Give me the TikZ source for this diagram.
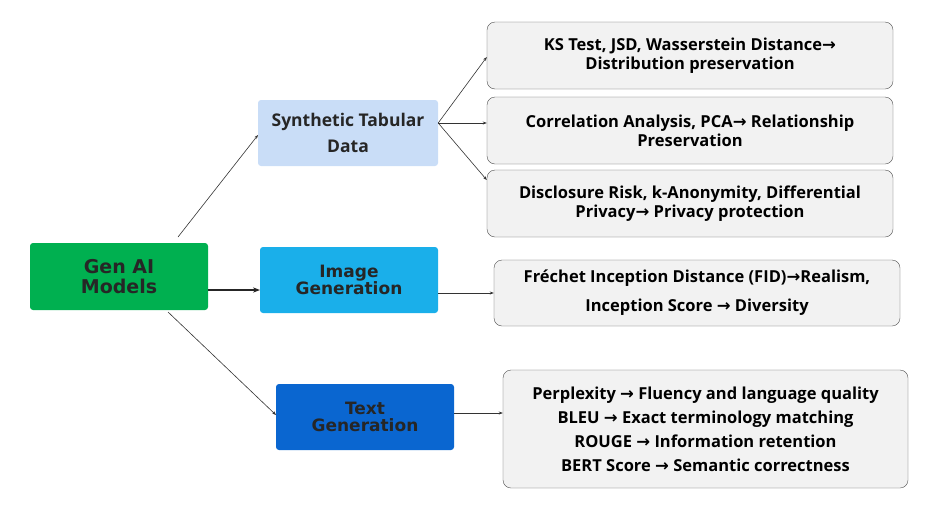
\documentclass[tikz,border=0pt]{standalone}
\usepackage{fontspec}
\setmainfont{Open Sans}
\newfontfamily\arr{DejaVu Sans}
\newfontfamily\catf{DejaVu Sans}
\newcommand{\ar}{{\arr\bfseries\char"2192}}
\usetikzlibrary{arrows.meta}
\definecolor{gboxc}{HTML}{00B050}
\definecolor{sboxc}{HTML}{C9DDF7}
\definecolor{iboxc}{HTML}{1AAFEA}
\definecolor{tboxc}{HTML}{0A66D0}
\definecolor{rboxc}{HTML}{F2F2F2}
\begin{document}
\begin{tikzpicture}[x=1pt,y=-1pt,
 cat/.style={rounded corners=3pt,inner sep=0pt,align=center,font=\catf\bfseries\fontsize{17}{17}\selectfont,text=black!85},
 res/.style={draw=black!70,fill=rboxc,rounded corners=8pt,inner sep=0pt,align=center,font=\bfseries\fontsize{16.5}{19}\selectfont},
 con/.style={draw=black!80,-{Stealth[length=4pt]},line width=0.6pt}]
\useasboundingbox (0,0) rectangle (940,515);
\node[cat,fill=gboxc,minimum width=178,minimum height=67,font=\catf\bfseries\fontsize{19}{20}\selectfont] (g) at (119,276.5) {Gen AI\\Models};
\node[cat,fill=sboxc,minimum width=180,minimum height=66,font=\bfseries\fontsize{17.5}{26}\selectfont] (s) at (348,133) {Synthetic Tabular\\Data};
\node[cat,fill=iboxc,minimum width=178,minimum height=66] (i) at (349,280) {Image\\Generation};
\node[cat,fill=tboxc,minimum width=178,minimum height=66] (t) at (365,417) {Text\\Generation};
\node[res,minimum width=406,minimum height=67] (b1) at (690,55.5) {KS Test, JSD, Wasserstein Distance\ar\\Distribution preservation};
\node[res,minimum width=406,minimum height=67] (b2) at (690,130.5) {Correlation Analysis, PCA\ar{} Relationship\\Preservation};
\node[res,minimum width=406,minimum height=67] (b3) at (690,203.5) {Disclosure Risk, k-Anonymity, Differential\\Privacy\ar{} Privacy protection};
\node[res,minimum width=406,minimum height=66,font=\bfseries\fontsize{16.5}{29}\selectfont] (b4) at (697,293) {Fréchet Inception Distance (FID)\ar Realism,\\Inception Score \ar{} Diversity};
\node[res,minimum width=405,minimum height=118,font=\bfseries\fontsize{16.5}{24}\selectfont] (b5) at (705.5,429) {Perplexity \ar{} Fluency and language quality\\BLEU \ar{} Exact terminology matching\\ROUGE \ar{} Information retention\\BERT Score \ar{} Semantic correctness};
\path (i.west) ++(0,0) coordinate (iw);
\draw[con] (178,237) -- (258,135);
\draw[con] (168,312) -- (276,415);
\draw[-{Stealth[length=7pt]},line width=2.2pt,black!85] (208,290) -- (260,290);
\draw[con] (s.east |- 0,123) -- (b1.west |- 0,57);
\draw[con] (s.east |- 0,123) -- (b2.west |- 0,123);
\draw[con] (s.east |- 0,123) -- (b3.west |- 0,180);
\draw[con] (438,293) -- (b4.west |- 0,293);
\draw[con] (454,413) -- (b5.west |- 0,413);
\end{tikzpicture}
\end{document}
